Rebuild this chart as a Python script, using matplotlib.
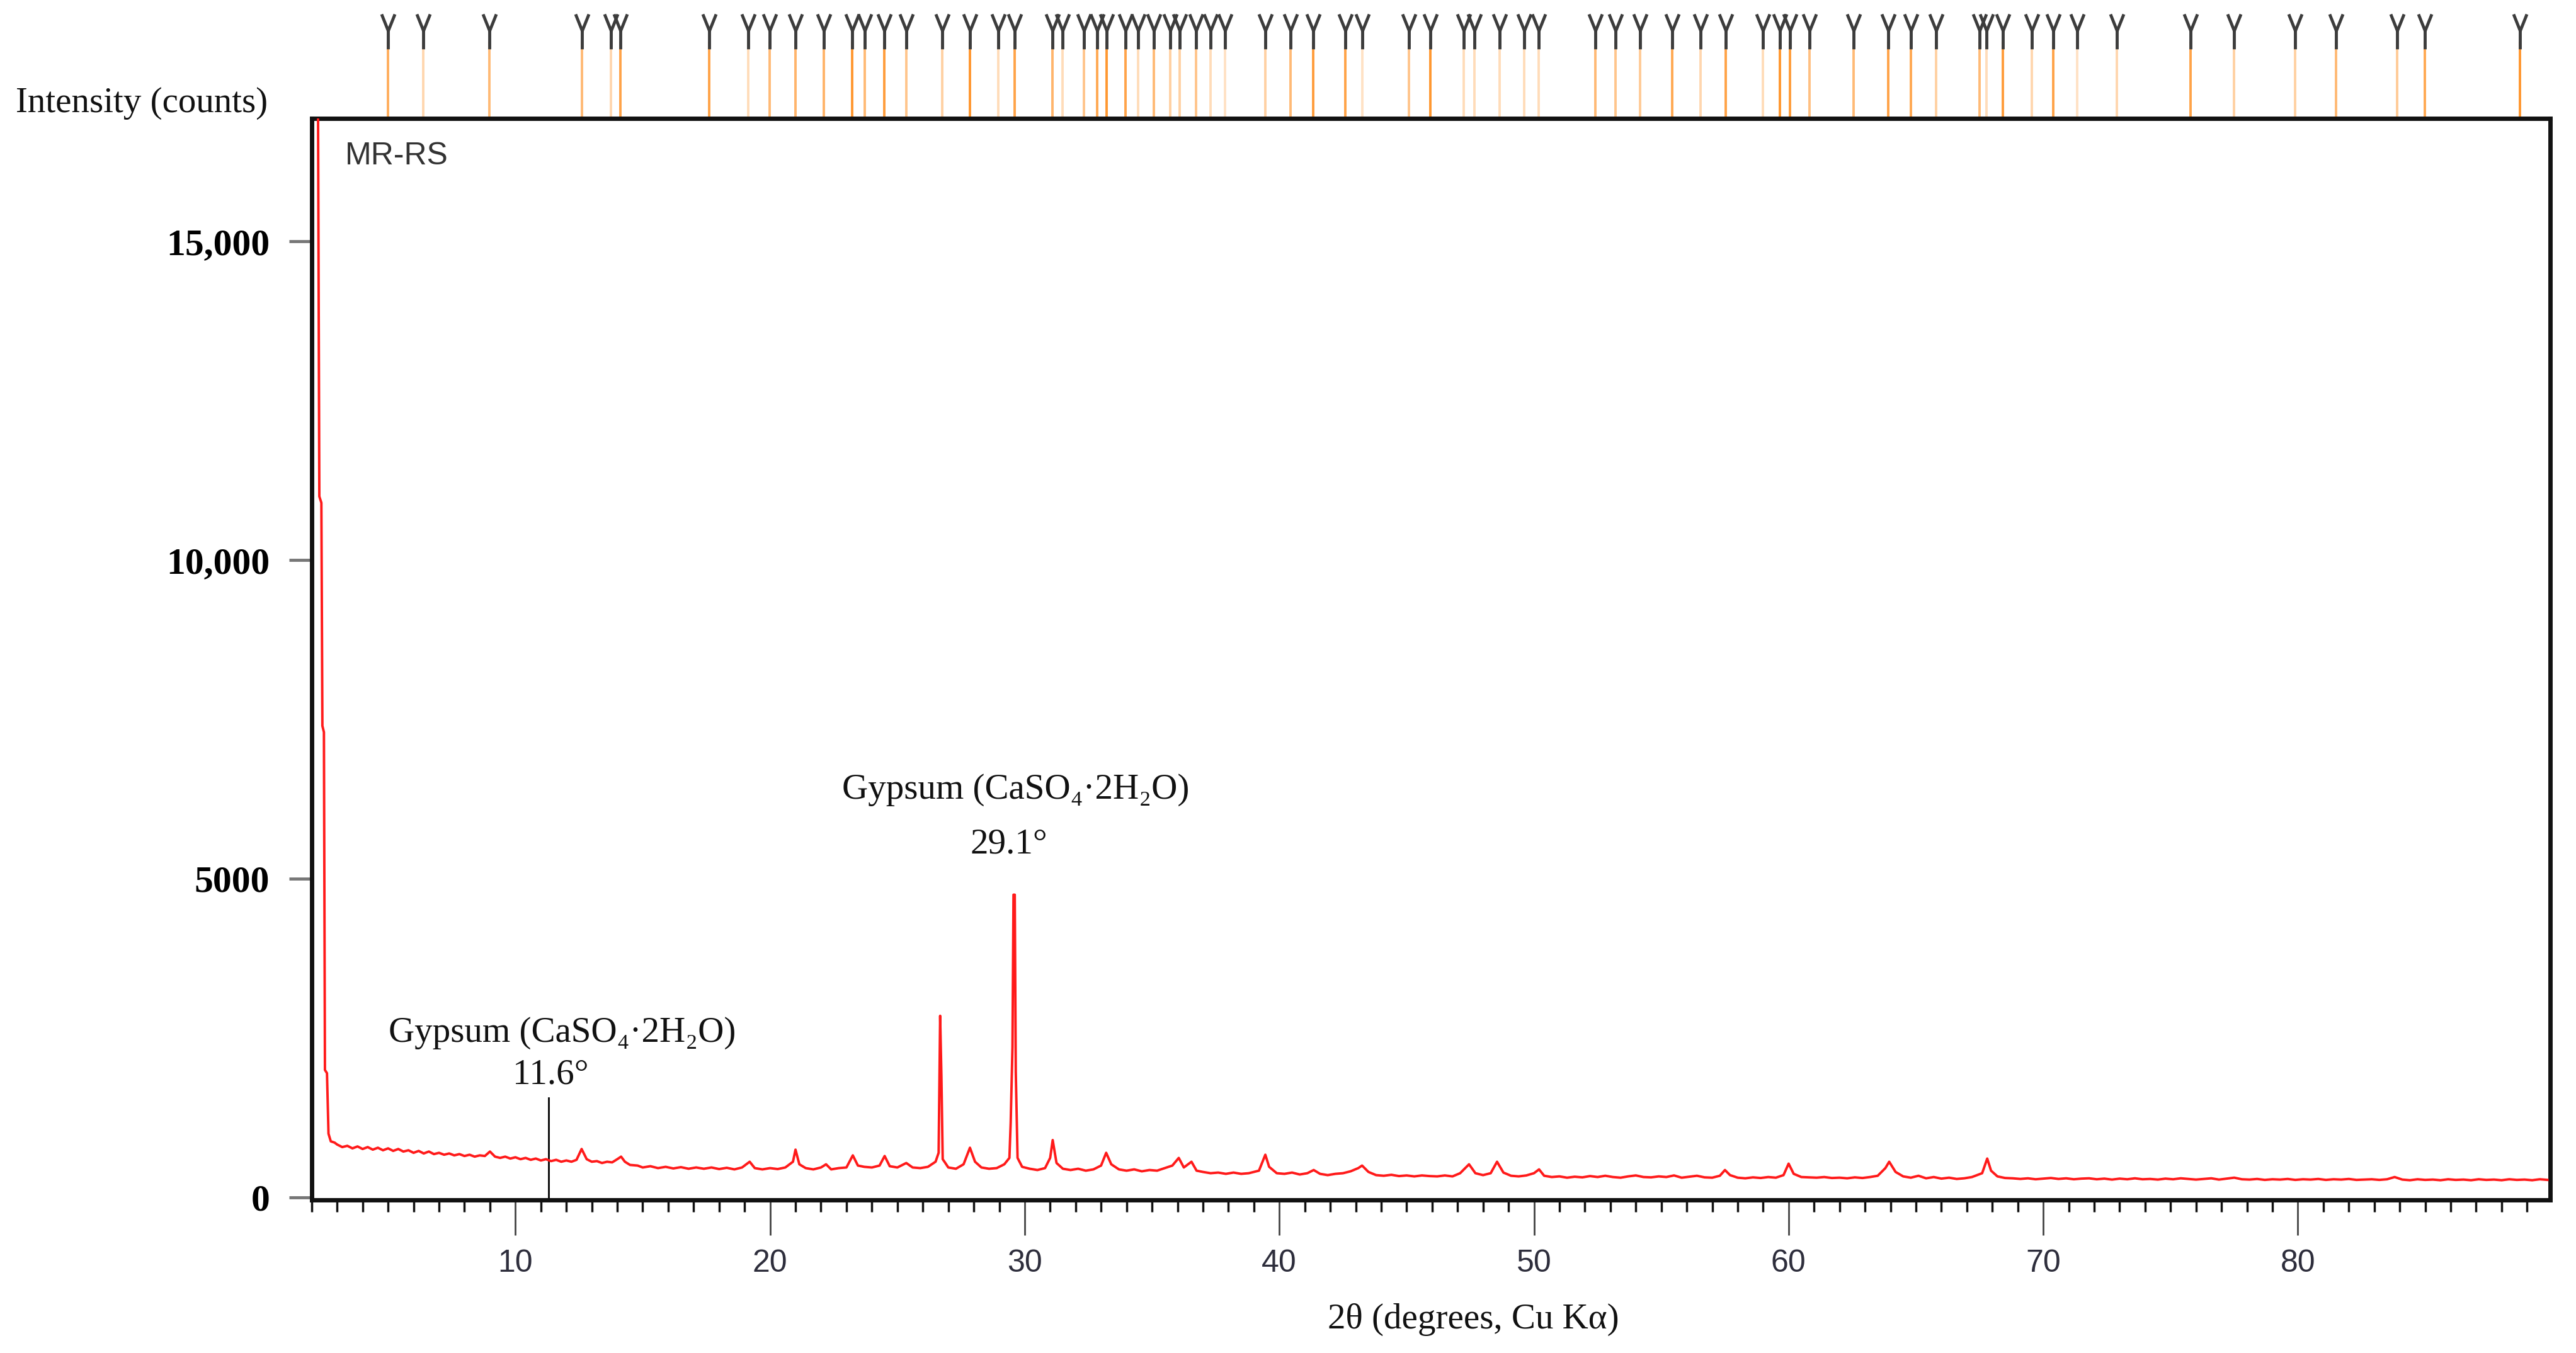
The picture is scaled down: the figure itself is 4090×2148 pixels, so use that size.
import matplotlib
matplotlib.use("Agg")
import matplotlib.pyplot as plt
from matplotlib.ticker import FixedLocator, MultipleLocator, NullFormatter
from matplotlib.path import Path
import matplotlib.transforms as mtransforms

# -----------------------------
# Data
# -----------------------------
two_theta = [
    2.05, 2.25, 2.30, 2.38, 2.42, 2.48, 2.52, 2.60, 2.66, 2.75, 2.90,
    3.0, 3.2, 3.4, 3.6, 3.8, 4.0, 4.2, 4.4, 4.6, 4.8, 5.0, 5.2, 5.4, 5.6, 5.8,
    6.0, 6.2, 6.4, 6.6, 6.8, 7.0, 7.2, 7.4, 7.6, 7.8, 8.0, 8.2, 8.4, 8.6, 8.8,
    9.0, 9.2, 9.4, 9.6, 9.8, 10.0, 10.2, 10.4, 10.6, 10.8, 11.0, 11.2, 11.4,
    11.6, 11.8, 12.0, 12.2, 12.4, 12.6, 12.8, 13.0, 13.2, 13.4, 13.6, 13.8,
    14.0, 14.15, 14.3, 14.5, 14.8, 15.0, 15.3, 15.6, 15.9, 16.2, 16.5, 16.8,
    17.1, 17.4, 17.7, 18.0, 18.3, 18.6, 18.9, 19.2, 19.4, 19.7, 20.0, 20.3,
    20.6, 20.9, 21.0, 21.15, 21.4, 21.7, 22.0, 22.2, 22.4, 22.7, 23.0, 23.25,
    23.45, 23.7, 24.0, 24.3, 24.5, 24.7, 25.0, 25.35, 25.6, 25.9, 26.2, 26.5,
    26.62, 26.68, 26.73, 26.78, 26.85, 27.0, 27.3, 27.6, 27.85, 28.05, 28.3,
    28.6, 28.9, 29.2, 29.4, 29.45, 29.52, 29.56, 29.61, 29.65, 29.72, 29.9,
    30.2, 30.5, 30.8, 31.0, 31.1, 31.25, 31.5, 31.8, 32.1, 32.4, 32.7, 33.0,
    33.2, 33.4, 33.7, 34.0, 34.3, 34.6, 34.9, 35.2, 35.5, 35.8, 36.05, 36.25,
    36.55, 36.75, 37.0, 37.3, 37.6, 37.9, 38.2, 38.5, 38.8, 39.2, 39.45, 39.6,
    39.9, 40.2, 40.5, 40.8, 41.1, 41.35, 41.6, 41.9, 42.2, 42.5, 42.8, 43.1,
    43.25, 43.5, 43.8, 44.1, 44.4, 44.7, 45.0, 45.3, 45.6, 45.9, 46.2, 46.5,
    46.8, 47.1, 47.45, 47.7, 48.0, 48.3, 48.55, 48.8, 49.1, 49.4, 49.7, 50.0,
    50.2, 50.4, 50.7, 51.0, 51.3, 51.6, 51.9, 52.2, 52.5, 52.8, 53.1, 53.4,
    53.7, 54.0, 54.3, 54.6, 54.9, 55.2, 55.5, 55.8, 56.1, 56.4, 56.7, 57.0,
    57.3, 57.5, 57.7, 58.0, 58.3, 58.6, 58.9, 59.2, 59.5, 59.8, 60.0, 60.2,
    60.5, 60.8, 61.1, 61.4, 61.7, 62.0, 62.3, 62.6, 62.9, 63.2, 63.5, 63.8,
    63.95, 64.2, 64.5, 64.8, 65.1, 65.4, 65.7, 66.0, 66.3, 66.6, 66.9, 67.2,
    67.6, 67.8, 67.95, 68.2, 68.5, 68.8, 69.1, 69.4, 69.7, 70.0, 70.3, 70.6,
    70.9, 71.2, 71.5, 71.8, 72.1, 72.4, 72.7, 73.0, 73.3, 73.6, 73.9, 74.2,
    74.5, 74.8, 75.1, 75.4, 75.7, 76.0, 76.3, 76.6, 76.9, 77.2, 77.5, 77.8,
    78.1, 78.4, 78.7, 79.0, 79.3, 79.6, 79.9, 80.2, 80.5, 80.8, 81.1, 81.4,
    81.7, 82.0, 82.3, 82.6, 82.9, 83.2, 83.5, 83.8, 84.1, 84.4, 84.7, 85.0,
    85.3, 85.6, 85.9, 86.2, 86.5, 86.8, 87.1, 87.4, 87.7, 88.0, 88.3, 88.6,
    88.9, 89.2, 89.5, 89.8,
]
counts = [
    18000, 17000, 11000, 10900, 7400, 7300, 2000, 1950, 1000, 880, 860,
    830, 790, 810, 770, 800, 760, 790, 750, 780, 740, 770, 730, 760, 720, 740,
    700, 730, 690, 720, 680, 700, 670, 690, 660, 680, 650, 670, 640, 660, 650,
    720, 640, 620, 640, 610, 630, 600, 620, 590, 610, 580, 600, 570,
    590, 560, 580, 560, 590, 760, 600, 560, 570, 540, 560, 550,
    600, 640, 560, 510, 500, 470, 490, 460, 480, 455, 475, 450,
    470, 450, 470, 445, 465, 440, 470, 560, 460, 440, 460, 445,
    470, 560, 750, 520, 460, 440, 470, 520, 440, 460, 470, 660,
    500, 480, 470, 500, 650, 490, 470, 540, 470, 460, 480, 560,
    700, 2850, 1900, 600, 560, 470, 450, 520, 780, 560, 470,
    450, 460, 520, 620, 1170, 2360, 4750, 4750, 1970, 620, 480,
    450, 430, 460, 620, 900, 540, 450, 430, 450, 420, 440, 500,
    700, 520, 440, 420, 440, 410, 430, 420, 460, 500, 620, 470,
    560, 420, 400, 380, 390, 370, 390, 370, 380, 420, 670, 480,
    380, 370, 390, 360, 380, 430, 370, 350, 370, 380, 410, 460,
    500, 400, 350, 340, 355, 335, 345, 330, 345, 335, 330, 345,
    330, 380, 520, 380, 350, 380, 560, 390, 340, 330, 345, 380,
    440, 340, 320, 330, 310, 325, 315, 335, 320, 340, 320, 310,
    330, 345, 320, 315, 330, 320, 345, 310, 325, 340, 315, 310,
    340, 430, 350, 310, 300, 315, 305, 320, 310, 350, 530, 370,
    320, 315, 310, 320, 305, 310, 300, 315, 305, 320, 340, 460,
    560, 400, 330, 310, 340, 300, 320, 295, 310, 290, 300, 320,
    380, 610, 420, 330, 305, 300, 290, 300, 285, 295, 305, 290,
    300, 285, 295, 300, 285, 295, 280, 295, 285, 300, 285, 290,
    280, 295, 285, 300, 290, 280, 290, 300, 280, 295, 310, 285,
    280, 290, 275, 285, 280, 290, 275, 285, 280, 290, 275, 285,
    280, 290, 275, 280, 285, 275, 285, 320, 280, 270, 285, 275,
    280, 270, 285, 275, 280, 270, 285, 275, 280, 270, 285, 275,
    280, 270, 285, 275,
]

# reference pattern stick positions (top strip) and their relative strength
ref_peaks = [
    5.00, 6.39, 8.99, 12.62, 13.76, 14.13, 17.62, 19.15, 19.99, 21.00, 22.11,
    23.22, 23.73, 24.48, 25.35, 26.75, 27.84, 28.96, 29.61, 31.10, 31.48,
    32.33, 32.84, 33.21, 33.96, 34.45, 35.08, 35.72, 36.09, 36.72, 37.31,
    37.86, 39.44, 40.45, 41.33, 42.58, 43.27, 45.09, 45.92, 47.24, 47.65,
    48.65, 49.61, 50.18, 52.40, 53.19, 54.17, 55.43, 56.55, 57.54, 58.99,
    59.67, 60.05, 60.81, 62.56, 63.91, 64.81, 65.80, 67.51, 67.76, 68.41,
    69.54, 70.39, 71.34, 72.90, 75.79, 77.50, 79.89, 81.50, 83.89, 84.99,
    88.71,
]
ref_strength = [
    0.7, 0.35, 0.6, 0.6, 0.35, 0.8, 0.8, 0.3, 0.6, 0.65, 0.65,
    0.9, 0.6, 0.85, 0.5, 0.4, 0.9, 0.3, 0.8, 0.65, 0.3,
    0.5, 0.75, 0.9, 0.8, 0.3, 0.6, 0.4, 0.4, 0.5, 0.3,
    0.25, 0.4, 0.6, 0.85, 0.8, 0.25, 0.5, 0.9, 0.3, 0.3,
    0.3, 0.3, 0.3, 0.6, 0.5, 0.45, 0.75, 0.35, 0.8, 0.3,
    0.9, 0.85, 0.55, 0.6, 0.8, 0.75, 0.4, 0.6, 0.3, 0.85,
    0.35, 0.8, 0.25, 0.35, 0.8, 0.4, 0.4, 0.6, 0.45, 0.75,
    0.9,
]

y_ticks = [0, 5000, 10000, 15000]
y_tick_labels = ["0", "5000", "10,000", "15,000"]
x_ticks = [10, 20, 30, 40, 50, 60, 70, 80]

gypsum_label = "Gypsum (CaSO\u2084\u00b72H\u2082O)"
annot_low = (11.3, 1560)
annot_high = (29.6, 4800)

SERIF = ["Liberation Serif", "DejaVu Serif"]
NARROW = ["Liberation Sans Narrow", "Liberation Sans", "DejaVu Sans"]

# narrow "Y" shaped stick head (V on a short stem)
y_marker = Path(
    [(-0.38, 1.0), (0.0, 0.05), (0.38, 1.0), (0.0, 0.05), (0.0, -1.0)],
    [Path.MOVETO, Path.LINETO, Path.LINETO, Path.MOVETO, Path.LINETO],
)

# -----------------------------
# Figure
# -----------------------------
fig = plt.figure(figsize=(40.9, 21.48), dpi=100)
ax = fig.add_axes([0.1210, 0.1131, 0.8689, 0.7993])

ax.plot(two_theta, counts, color="#ff1a1a", lw=2.8, zorder=3)

ax.set_xlim(2, 89.9)
ax.set_ylim(-40, 16930)

for side in ["left", "right", "top", "bottom"]:
    ax.spines[side].set_linewidth(5)
    ax.spines[side].set_color("#111111")

# x axis ticks
ax.xaxis.set_major_locator(FixedLocator(x_ticks))
ax.xaxis.set_minor_locator(MultipleLocator(1))
ax.xaxis.set_minor_formatter(NullFormatter())
ax.tick_params(axis="x", which="major", length=40, width=2, color="#444444",
               pad=16, labelsize=36, labelcolor="#2e2e3c")
ax.tick_params(axis="x", which="minor", length=14, width=2.5, color="#111111")
for lbl in ax.get_xticklabels():
    lbl.set_family(NARROW)

# y axis ticks
ax.yaxis.set_major_locator(FixedLocator(y_ticks))
ax.set_yticklabels(y_tick_labels)
ax.tick_params(axis="y", which="major", length=26, width=3.5, color="#777777",
               pad=22, labelsize=43)
for lbl in ax.get_yticklabels():
    lbl.set_family(SERIF)
    lbl.set_fontweight("bold")

# reference sticks above the frame
trans = mtransforms.blended_transform_factory(ax.transData, ax.transAxes)
for pos, s in zip(ref_peaks, ref_strength):
    ax.plot([pos, pos], [1.0, 1.07], transform=trans, color="#ff8c1a",
            alpha=s, lw=2.8, clip_on=False, zorder=1)
    ax.plot([pos], [1.0805], transform=trans, marker=y_marker, ms=40, mew=3.5,
            color="#3c3c3c", markerfacecolor="none", clip_on=False, zorder=2)

# annotations
ax.plot([annot_low[0], annot_low[0]], [0, annot_low[1]], color="black", lw=2)
ax.text(11.85, 2580, gypsum_label, ha="center", va="center",
        fontsize=41, family=SERIF, color="#111111")
ax.text(11.38, 1927, "11.6\u00b0", ha="center", va="center",
        fontsize=41, family=SERIF, color="#111111")
ax.text(annot_high[0] + 0.04, 6393, gypsum_label, ha="center", va="center",
        fontsize=41, family=SERIF, color="#111111")
ax.text(annot_high[0] - 0.23, 5543, "29.1\u00b0", ha="center", va="center",
        fontsize=41, family=SERIF, color="#111111")

ax.text(0.0149, 0.965, "MR-RS", transform=ax.transAxes, ha="left", va="center",
        fontsize=36, family=NARROW, color="#333333")

fig.text(0.1039, 0.9236, "Intensity (counts)", ha="right", va="center",
         fontsize=41, family=SERIF, color="#111111")
fig.text(0.572, 0.0247, "2\u03b8 (degrees, Cu K\u03b1)", ha="center", va="center",
         fontsize=41, family=SERIF, color="#111111")

fig.savefig("out.png", dpi=100)
